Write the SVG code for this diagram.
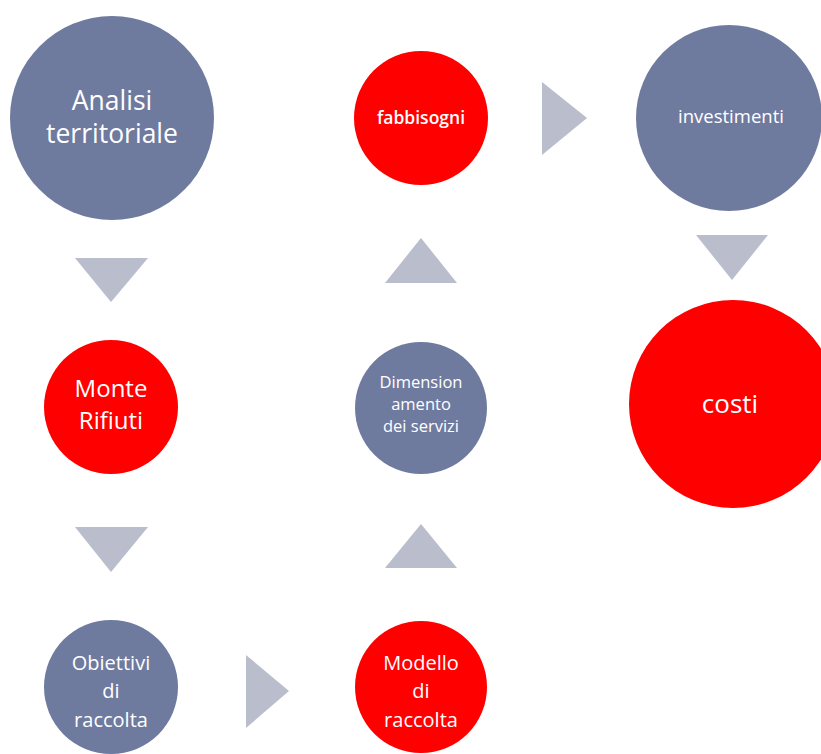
<svg xmlns="http://www.w3.org/2000/svg" width="821" height="754" viewBox="0 0 821 754">
<style>
.s{fill:#6F7A9F}
.r{fill:#FF0000}
.t{fill:#B9BDCC}
text{font-family:"Open Sans","Noto Sans","DejaVu Sans",sans-serif;fill:#fff;text-anchor:middle;font-variant-ligatures:none}
</style>
<rect width="821" height="754" fill="#fff"/>
<g id="connectors">
<polygon class="t" points="75,258 148,258 111,302"/>
<polygon class="t" points="75,527 148,527 111,572"/>
<polygon class="t" points="246,655 289,691 246,728"/>
<polygon class="t" points="385,568 457,568 421,524"/>
<polygon class="t" points="385,283 457,283 421,238"/>
<polygon class="t" points="542,82 587,118 542,155"/>
<polygon class="t" points="696,235 768,235 732,280"/>
</g>
<g id="analisi">
<circle class="s" cx="112" cy="118" r="102"/>
<text x="112" y="110" font-size="26.5">Analisi</text>
<text x="112" y="143" font-size="26.5">territoriale</text>
</g>
<g id="monte">
<circle class="r" cx="111" cy="407" r="67"/>
<text x="111" y="397" font-size="24">Monte</text>
<text x="111" y="429" font-size="24">Rifiuti</text>
</g>
<g id="obiettivi">
<circle class="s" cx="111" cy="687" r="67"/>
<text x="111" y="670" font-size="20">Obiettivi</text>
<text x="111" y="698" font-size="20">di</text>
<text x="111" y="727" font-size="20">raccolta</text>
</g>
<g id="modello">
<circle class="r" cx="421" cy="687" r="66"/>
<text x="421" y="670" font-size="20">Modello</text>
<text x="421" y="698" font-size="20">di</text>
<text x="421" y="727" font-size="20">raccolta</text>
</g>
<g id="dimensionamento">
<circle class="s" cx="421" cy="408" r="66"/>
<text x="421" y="388" font-size="16.5">Dimension</text>
<text x="421" y="410" font-size="16.5">amento</text>
<text x="421" y="432" font-size="16.5">dei servizi</text>
</g>
<g id="fabbisogni">
<circle class="r" cx="421" cy="118" r="67"/>
<text x="421" y="124" font-size="17.5" font-weight="600">fabbisogni</text>
</g>
<g id="investimenti">
<circle class="s" cx="729" cy="118" r="93"/>
<text x="731" y="123" font-size="18.5">investimenti</text>
</g>
<g id="costi">
<circle class="r" cx="733" cy="404" r="104"/>
<text x="730" y="413" font-size="26">costi</text>
</g>
</svg>
